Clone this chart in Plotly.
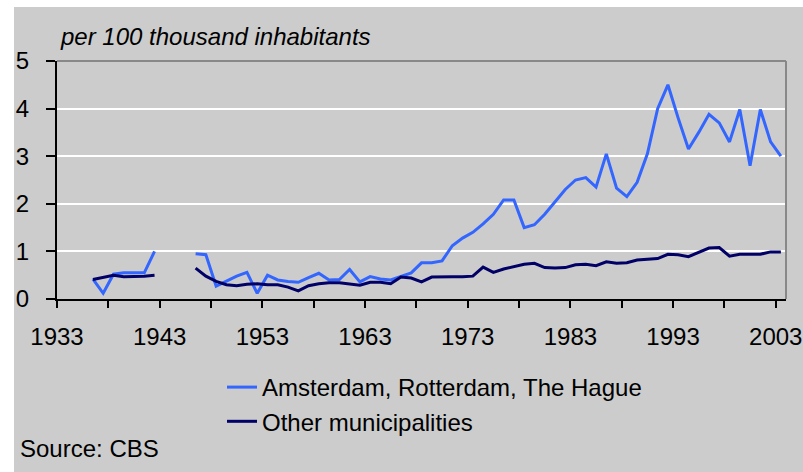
import plotly.graph_objects as go

years = list(range(1936, 2004))

big_cities = [
    0.42, 0.12, 0.52, 0.55, 0.55, 0.55, 1.00,            # 1936-1942
    None, None, None,                                    # 1943-1945
    0.95, 0.93, 0.27, 0.38, 0.48, 0.56, 0.12, 0.50, 0.40, 0.37,  # 1946-1955
    0.35, 0.45, 0.54, 0.40, 0.41, 0.62, 0.36, 0.47, 0.42, 0.40,  # 1956-1965
    0.47, 0.55, 0.76, 0.76, 0.80, 1.12, 1.28, 1.40, 1.58, 1.78,  # 1966-1975
    2.08, 2.08, 1.50, 1.56, 1.78, 2.05, 2.30, 2.50, 2.55, 2.35,  # 1976-1985
    3.05, 2.33, 2.15, 2.45, 3.05, 4.00, 4.50, 3.80, 3.15, 3.50,  # 1986-1995
    3.88, 3.70, 3.30, 3.98, 2.80, 3.98, 3.30, 3.00,              # 1996-2003
]

other = [
    0.41, 0.45, 0.50, 0.47, 0.47, 0.48, 0.50,            # 1936-1942
    None, None, None,                                    # 1943-1945
    0.65, 0.48, 0.37, 0.30, 0.28, 0.31, 0.32, 0.30, 0.30, 0.25,  # 1946-1955
    0.17, 0.28, 0.32, 0.34, 0.34, 0.31, 0.29, 0.35, 0.35, 0.32,  # 1956-1965
    0.46, 0.44, 0.36, 0.46, 0.47, 0.47, 0.47, 0.48, 0.67, 0.56,  # 1966-1975
    0.63, 0.68, 0.73, 0.75, 0.66, 0.65, 0.66, 0.72, 0.73, 0.70,  # 1976-1985
    0.78, 0.75, 0.76, 0.82, 0.83, 0.85, 0.94, 0.93, 0.89, 0.98,  # 1986-1995
    1.07, 1.08, 0.90, 0.94, 0.94, 0.94, 0.99, 0.99,              # 1996-2003
]

tick_years = list(range(1933, 2004, 5))
tick_text = [str(y) if (y - 1933) % 10 == 0 else "" for y in tick_years]

series_names = ["Amsterdam, Rotterdam, The Hague", "Other municipalities"]
series_colors = ["#3366ff", "#000066"]

FONT = "Arial, Liberation Sans, sans-serif"
GRAY = "#cccccc"

fig = go.Figure()
for name, vals, col in zip(series_names, [big_cities, other], series_colors):
    fig.add_trace(go.Scatter(x=years, y=vals, mode="lines", name=name,
                             line=dict(color=col, width=3), connectgaps=False))

W, H = 803, 472
L, R, T, B = 57, 17, 61, 173
pw, ph = W - L - R, H - T - B

def px_x(x):
    return (x - L) / pw

def px_y(y):
    return (H - B - y) / ph

fig.update_layout(
    width=W, height=H,
    margin=dict(l=L, r=R, t=T, b=B, autoexpand=False),
    paper_bgcolor="white",
    plot_bgcolor=GRAY,
    font=dict(family=FONT, size=24, color="#000000"),
    showlegend=True,
    legend=dict(x=px_x(222), y=px_y(365), xanchor="left", yanchor="top",
                bgcolor="rgba(0,0,0,0)", font=dict(size=24),
                tracegroupgap=0, itemwidth=30),
    xaxis=dict(range=[1932.5, 2003.5], tickmode="array",
               tickvals=[y - 0.5 for y in tick_years], ticktext=tick_text,
               ticks="outside", ticklen=7, tickwidth=2, tickcolor="#000000",
               showline=True, linecolor="#000000", linewidth=2,
               showgrid=False, zeroline=False, ticklabelstandoff=8,
               automargin=False),
    yaxis=dict(range=[0, 5], tickmode="array", tickvals=[0, 1, 2, 3, 4, 5],
               ticks="outside", ticklen=9, tickwidth=2, tickcolor="#000000",
               showline=True, linecolor="#000000", linewidth=2,
               showgrid=True, gridcolor="#ffffff", gridwidth=2,
               zeroline=False, ticklabelstandoff=12, automargin=False),
    shapes=[
        dict(type="rect", xref="paper", yref="paper", layer="below",
             x0=px_x(14), x1=px_x(803), y0=px_y(472), y1=px_y(7),
             fillcolor=GRAY, line=dict(width=0)),
        dict(type="line", xref="paper", yref="paper", x0=0, x1=1, y0=1, y1=1,
             line=dict(color="#888888", width=2)),
        dict(type="line", xref="paper", yref="paper", x0=1, x1=1, y0=0, y1=1,
             line=dict(color="#888888", width=2)),
    ],
    annotations=[
        dict(text="<i>per 100 thousand inhabitants</i>", xref="paper", yref="paper",
             x=px_x(58), y=px_y(37), xanchor="left", yanchor="middle",
             showarrow=False, font=dict(size=24)),
        dict(text="Source: CBS", xref="paper", yref="paper",
             x=px_x(18), y=px_y(448), xanchor="left", yanchor="middle",
             showarrow=False, font=dict(size=24)),
    ],
)

fig.write_html("out.html",
               config={"displayModeBar": False},
               post_script="document.body.style.margin='0';"
                           "document.body.style.overflow='hidden';")
